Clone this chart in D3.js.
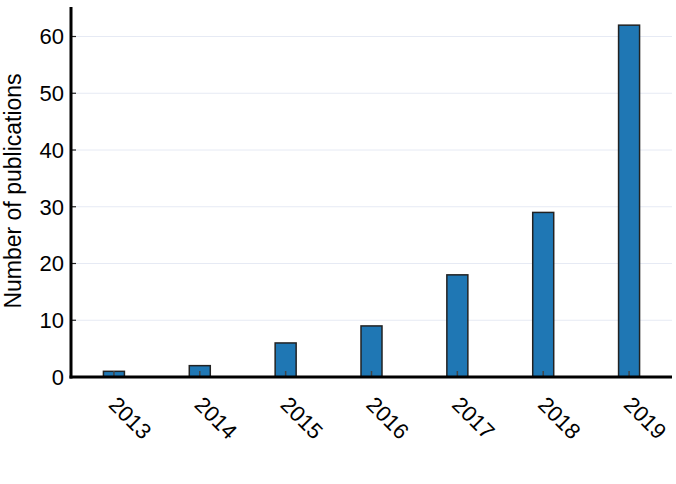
<!DOCTYPE html>
<html><head><meta charset="utf-8">
<script src="https://cdn.jsdelivr.net/npm/d3@7"></script>
<style>body{margin:0;background:#fff}svg{display:block}text{font-family:"Liberation Sans",Arial,sans-serif}</style>
</head><body><svg id="c" width="676" height="484"></svg>
<script>
const years = ["2013","2014","2015","2016","2017","2018","2019"];
const publications = [1, 2, 6, 9, 18, 29, 62];
const yTicks = [0, 10, 20, 30, 40, 50, 60];

const svg = d3.select("#c");
const m = {l:71, r:672, t:7, b:377};
const x = d3.scaleBand().domain(years).range([m.l, m.r]).paddingInner(0).paddingOuter(0);
const y = d3.scaleLinear().domain([0, 65.2]).range([m.b, m.t]);

// gridlines
svg.append("g").selectAll("line").data(yTicks.filter(d=>d>0)).join("line")
  .attr("x1", m.l).attr("x2", m.r).attr("y1", d=>y(d)).attr("y2", d=>y(d))
  .attr("stroke", "#e6eaf4").attr("stroke-width", 1);

// bars
const bw = 21;
svg.append("g").selectAll("rect").data(publications).join("rect")
  .attr("x", (d,i)=>x(years[i]) + x.bandwidth()/2 - bw/2)
  .attr("y", d=>y(d))
  .attr("width", bw)
  .attr("height", d=>y(0)-y(d))
  .attr("fill", "#1f77b4").attr("stroke", "#222").attr("stroke-width", 1.5);

// x ticks (inside)
svg.append("g").selectAll("line").data(years).join("line")
  .attr("x1", d=>x(d)+x.bandwidth()/2).attr("x2", d=>x(d)+x.bandwidth()/2)
  .attr("y1", m.b).attr("y2", m.b-6).attr("stroke", "#444").attr("stroke-width", 1.5);

// y ticks (inside)
svg.append("g").selectAll("line").data(yTicks).join("line")
  .attr("x1", m.l).attr("x2", m.l+5).attr("y1", d=>y(d)).attr("y2", d=>y(d))
  .attr("stroke", "#222").attr("stroke-width", 1.2);

// axes lines
svg.append("line").attr("x1", m.l).attr("x2", m.l).attr("y1", m.t).attr("y2", m.b+1.5)
  .attr("stroke", "#000").attr("stroke-width", 3);
svg.append("line").attr("x1", m.l-1.5).attr("x2", m.r).attr("y1", m.b).attr("y2", m.b)
  .attr("stroke", "#000").attr("stroke-width", 3);

// y tick labels
svg.append("g").selectAll("text").data(yTicks).join("text")
  .attr("x", m.l-7).attr("y", d=>y(d)).attr("dy", "0.36em")
  .attr("text-anchor", "end").attr("font-size", 22).attr("fill", "#000")
  .text(d=>d);

// x tick labels rotated
svg.append("g").selectAll("text").data(years).join("text")
  .attr("transform", d=>`translate(${x(d)+x.bandwidth()/2-6.5},${m.b+29}) rotate(45)`)
  .attr("text-anchor", "start").attr("font-size", 22).attr("fill", "#000")
  .text(d=>d);

// y label
svg.append("text").attr("transform", `translate(21,191) rotate(-90)`)
  .attr("text-anchor", "middle").attr("font-size", 23).attr("fill", "#000")
  .text("Number of publications");
</script></body></html>
